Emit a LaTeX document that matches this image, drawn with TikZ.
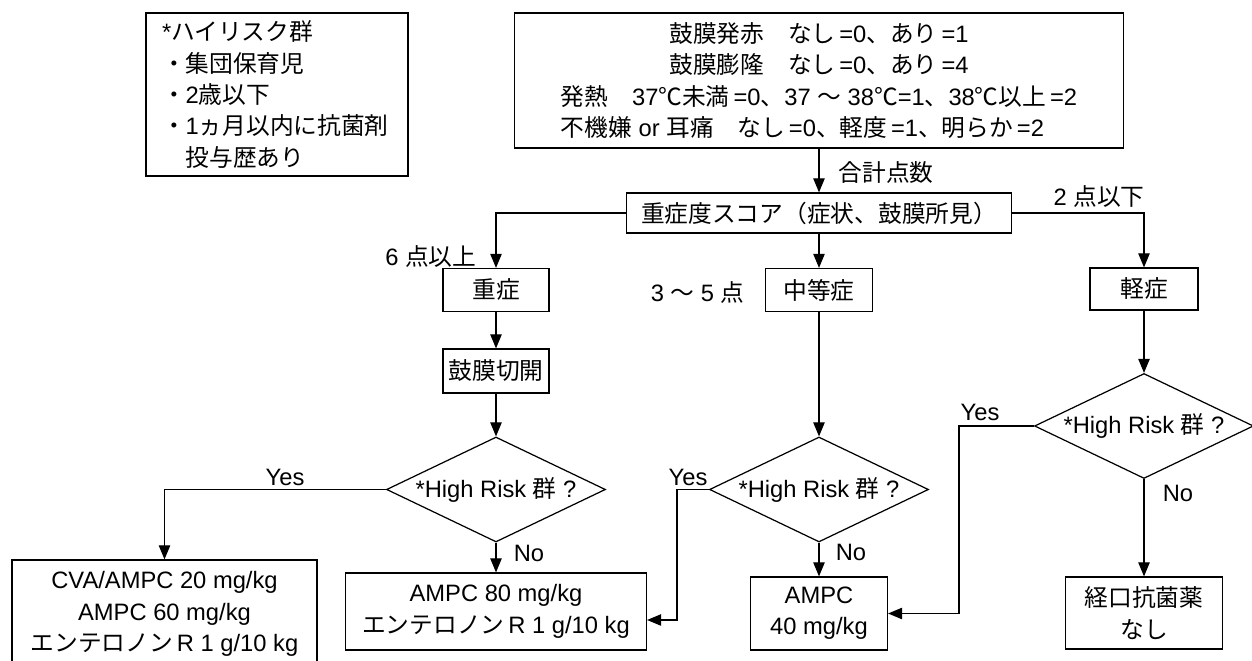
\documentclass[tikz,border=0pt]{standalone}
\usepackage{fontspec}
\setmainfont{Liberation Sans}
\newfontfamily\jp{Noto Sans CJK JP}
\usetikzlibrary{arrows.meta,shapes.geometric}
\tikzset{
  box/.style={draw, inner sep=0pt, align=center},
  query/.style={draw, diamond, inner sep=0pt, aspect=2.08,
    minimum width=4.38cm, minimum height=2.1cm},
  lbl/.style={inner sep=0pt},
}
\begin{document}
\begin{tikzpicture}[x=0.02cm, y=-0.02cm, line width=0.7pt,
    font=\fontsize{13.5}{17.8}\selectfont]
  \useasboundingbox (0,0) rectangle (1252,661);
  \draw
    (277,94.5) node[box, align=left, text width=4.6cm, inner xsep=0.32cm,
      minimum height=3.26cm] (risk)
      {*{\jp ハイリスク群}\\{\jp ・集団保育児}\\{\jp ・}2{\jp 歳以下}\\
       {\jp ・}1{\jp ヵ月以内に抗菌剤}\\{\jp 　投与歴あり}}
    (819,80.5) node[box, minimum width=12.18cm, minimum height=2.7cm] (top)
      {{\jp 鼓膜発赤　なし}\,=0{\jp 、あり}\,=1\\
       {\jp 鼓膜膨隆　なし}\,=0{\jp 、あり}\,=4\\
       {\jp 発熱　}37{\jp ℃未満}\,=0{\jp 、}37\ {\jp ～}\ 38{\jp ℃}=1{\jp 、}38{\jp ℃以上}\,=2\\
       {\jp 不機嫌} or {\jp 耳痛　なし}\,=0{\jp 、軽度}\,=1{\jp 、明らか}\,=2\hspace*{0.66cm}}
    (819,213) node[box, minimum width=7.7cm, minimum height=0.8cm] (score)
      {\jp 重症度スコア（症状、鼓膜所見）}
    (496,290) node[box, minimum width=2.12cm, minimum height=0.86cm] (sev) {\jp 重症}
    (819,290) node[box, minimum width=2.14cm, minimum height=0.86cm] (mod) {\jp 中等症}
    (1144,289) node[box, minimum width=2.16cm, minimum height=0.84cm] (mild) {\jp 軽症}
    (496,371) node[box, minimum width=2.12cm, minimum height=0.88cm] (cut) {\jp 鼓膜切開}
    (496,489.5) node[query] (q1) {*High Risk {\jp 群} ?}
    (819,489.5) node[query] (q2) {*High Risk {\jp 群} ?}
    (1144,426) node[query] (q3) {*High Risk {\jp 群} ?}
    (164.5,614) node[box, minimum width=6.1cm, minimum height=2.16cm] (cva)
      {CVA/AMPC 20 mg/kg\\AMPC 60 mg/kg\\{\jp エンテロノン}\,R 1 g/10 kg}
    (496,611.5) node[box, minimum width=6.02cm, minimum height=1.54cm] (amp80)
      {AMPC 80 mg/kg\\{\jp エンテロノン}\,R 1 g/10 kg}
    (819,613.5) node[box, minimum width=2.74cm, minimum height=1.46cm] (amp40)
      {AMPC\\40 mg/kg}
    (1144,613) node[box, minimum width=3.14cm, minimum height=1.44cm] (oral)
      {{\jp 経口抗菌薬}\\{\jp なし}};
  \draw
    (838,173) node[lbl, anchor=west] (sum) {\jp 合計点数}
    (477,257) node[lbl, anchor=east] (six) {6 {\jp 点以上}}
    (745,292) node[lbl, anchor=east] (mid) {3 {\jp ～} 5 {\jp 点}}
    (1053,197) node[lbl, anchor=west] (two) {2 {\jp 点以下}}
    (285,477) node[lbl] (y1) {Yes}
    (529,553) node[lbl] (n1) {No}
    (688,477) node[lbl] (y2) {Yes}
    (851,552) node[lbl] (n2) {No}
    (980,412) node[lbl] (y3) {Yes}
    (1178,493) node[lbl] (n3) {No};
  \begin{scope}[-{Triangle[width=6.5pt,length=8pt]}]
    \draw (top) to (score);
    \draw (score.west) -| (sev);
    \draw (score) to (mod);
    \draw (score.east) -| (mild);
    \draw (sev) to (cut);
    \draw (cut) to (q1);
    \draw (q1.west) -| (cva);
    \draw (q1) to (amp80);
    \draw (mod) to (q2);
    \draw (q2.west) -- ++(-32,0) |- ([yshift=-0.17cm]amp80.east);
    \draw (q2) to (amp40);
    \draw (mild) to (q3);
    \draw (q3.west) -- ++(-75,0) |- (amp40.east);
    \draw (q3) to (oral);
  \end{scope}
\end{tikzpicture}
\end{document}
